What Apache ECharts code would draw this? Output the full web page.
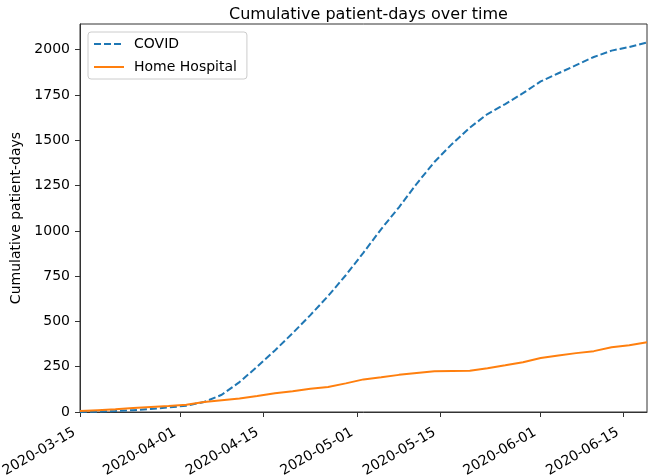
<!DOCTYPE html>
<html>
<head>
<meta charset="utf-8">
<script src="https://cdn.jsdelivr.net/npm/echarts@6/dist/echarts.min.js"></script>
<style>html,body{margin:0;padding:0;background:#fff}#c{width:649px;height:476px}</style>
</head>
<body>
<div id="c"></div>
<script>
var titleText = 'Cumulative patient-days over time';
var yAxisTitle = 'Cumulative patient-days';
var seriesNames = ['COVID', 'Home Hospital'];
var dates = ['2020-03-15','2020-03-18','2020-03-21','2020-03-24','2020-03-27','2020-03-30','2020-04-02','2020-04-05','2020-04-08','2020-04-11','2020-04-14','2020-04-17','2020-04-20','2020-04-23','2020-04-26','2020-04-29','2020-05-02','2020-05-05','2020-05-08','2020-05-11','2020-05-14','2020-05-17','2020-05-20','2020-05-23','2020-05-26','2020-05-29','2020-06-01','2020-06-04','2020-06-07','2020-06-10','2020-06-13','2020-06-16','2020-06-19'];
var covid = [0,2,5,10,17,25,35,55,95,165,250,340,435,535,640,755,880,1010,1130,1260,1380,1480,1570,1645,1700,1760,1825,1870,1915,1960,1995,2015,2040];
var homeHospital = [5,10,15,22,28,33,40,55,65,75,88,104,114,128,138,158,180,192,205,215,225,227,228,242,258,275,298,312,325,336,358,368,385];
var xTickDates = ['2020-03-15','2020-04-01','2020-04-15','2020-05-01','2020-05-15','2020-06-01','2020-06-15'];
var yTicks = [0,250,500,750,1000,1250,1500,1750,2000];
var xMaxDate = '2020-06-19';
var yMax = 2142;

function ts(s){ var p = s.split('-'); return Date.UTC(+p[0], +p[1]-1, +p[2]); }
function fmt(v){ var d = new Date(v); function z(n){return (n<10?'0':'')+n;} return d.getUTCFullYear()+'-'+z(d.getUTCMonth()+1)+'-'+z(d.getUTCDate()); }
function pairs(vals){ return dates.map(function(d,i){ return [ts(d), vals[i]]; }); }

var font = 'DejaVu Sans';
var chart = echarts.init(document.getElementById('c'), null, {renderer:'canvas'});
chart.setOption({
  animation: false,
  backgroundColor: '#fff',
  title: {
    text: titleText, left: 363.5, top: 2, textAlign: 'center',
    textStyle: {fontFamily: font, fontSize: 16, fontWeight: 'normal', color: '#000'}
  },
  grid: {left: 80, right: 2, top: 24, bottom: 64, show: true, borderColor: '#333', borderWidth: 1, backgroundColor: 'transparent',
         outerBoundsMode: 'none', containLabel: false},
  legend: {
    left: 88, top: 32, orient: 'vertical',
    backgroundColor: '#fff', borderColor: '#ccc', borderWidth: 1, borderRadius: 3,
    padding: [5, 10, 5, 5], itemGap: 9, itemWidth: 30, itemHeight: 14,
    itemStyle: {opacity: 0},
    textStyle: {fontFamily: font, fontSize: 14, color: '#000', padding: [0,0,0,5]},
    data: seriesNames
  },
  xAxis: {
    type: 'value', min: ts(dates[0]), max: ts(xMaxDate),
    axisLine: {show: true, lineStyle: {color: '#333', width: 1}},
    axisTick: {show: true, inside: false, length: 5, lineStyle: {color: '#333'}, customValues: xTickDates.map(ts)},
    axisLabel: {
      customValues: xTickDates.map(ts), rotate: 30, margin: 7, verticalAlign: 'top',
      padding: [1, 11, 0, 0],
      fontFamily: font, fontSize: 14, color: '#000',
      formatter: function(v){ return fmt(v); }
    },
    splitLine: {show: false}
  },
  yAxis: {
    type: 'value', min: 0, max: yMax,
    name: yAxisTitle, nameLocation: 'middle', nameGap: 54,
    nameTextStyle: {fontFamily: font, fontSize: 14, color: '#000'},
    axisLine: {show: true, lineStyle: {color: '#333', width: 1}},
    axisTick: {show: true, inside: false, length: 5, lineStyle: {color: '#333'}, customValues: yTicks},
    axisLabel: {customValues: yTicks, margin: 10, fontFamily: font, fontSize: 14, color: '#000',
      formatter: function(v){ return String(v); }},
    splitLine: {show: false}
  },
  series: [
    {name: seriesNames[0], type: 'line', data: pairs(covid), symbol: 'none', smooth: false,
     lineStyle: {color: '#1f77b4', width: 2, type: [7, 3]}, itemStyle: {color: '#1f77b4'}},
    {name: seriesNames[1], type: 'line', data: pairs(homeHospital), symbol: 'none', smooth: false,
     lineStyle: {color: '#ff7f0e', width: 2}, itemStyle: {color: '#ff7f0e'}}
  ]
});
</script>
</body>
</html>
